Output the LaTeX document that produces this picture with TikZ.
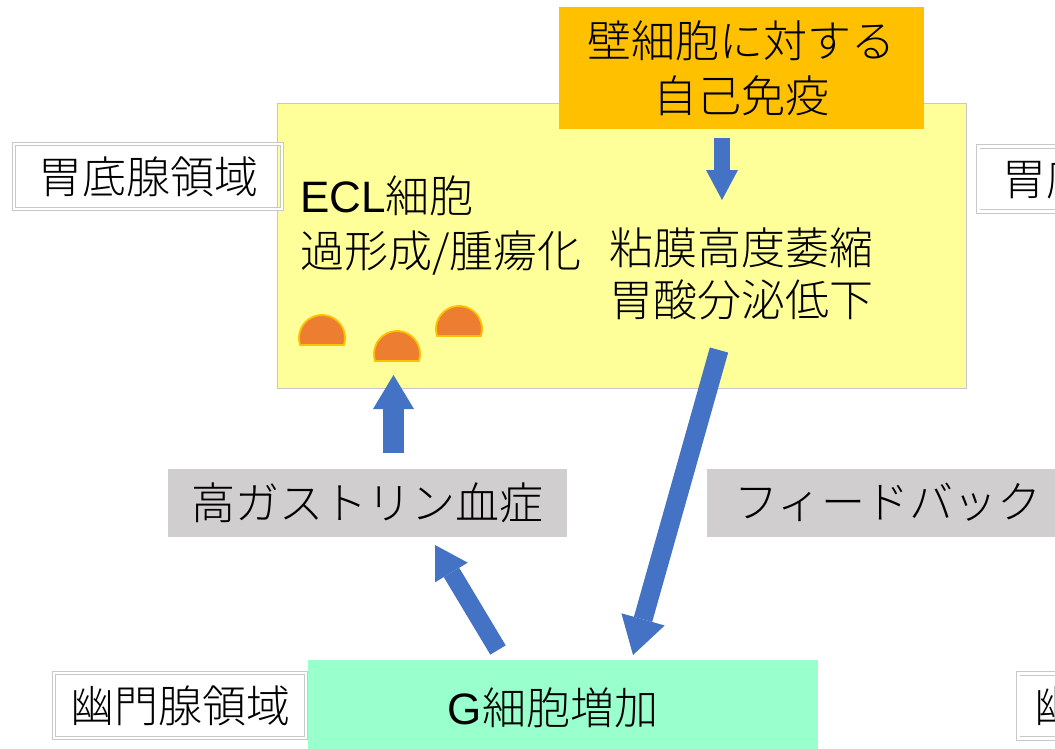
\documentclass[tikz,border=0pt]{standalone}
\usepackage{fontspec}
\setmainfont{Noto Sans CJK JP}[UprightFont=* Light]
\newfontfamily\latinfont{Liberation Sans}
\usepackage{xcolor}
\usetikzlibrary{positioning,arrows.meta}
\definecolor{paleyellow}{RGB}{255, 255, 153}
\definecolor{amber}{RGB}{255, 192, 0}
\definecolor{mint}{RGB}{153, 255, 204}
\definecolor{boxgray}{RGB}{208, 206, 206}
\definecolor{arrowblue}{RGB}{68, 114, 196}
\definecolor{cellorange}{RGB}{237, 125, 49}
\definecolor{edgegray}{RGB}{200, 200, 200}

\begin{document}
\begin{tikzpicture}[x=1pt,y=-1pt,
        every node/.style={font=\fontsize{44}{55}\selectfont, inner sep=0pt},
        regionbox/.style={draw=edgegray, double=white, double distance=2.5pt, line width=0.8pt, minimum height=65pt},
        graybox/.style={fill=boxgray, minimum height=68pt},
        cell/.style={fill=cellorange, draw=amber, line width=1.8pt},
        blockarrow/.style n args={3}{draw=arrowblue, line width=#1, -{Triangle[width=#2, length=#3, line width=0pt]}}]
        \useasboundingbox (0,0) rectangle (1055,748);

        % Fundic gland region
        \node[fill=paleyellow, draw=edgegray, line width=0.8pt, minimum width=689pt, minimum height=285pt] (fundus) at (621.5,245.5) {};
        \node[regionbox, minimum width=268pt] (fundlabel) at (148,176.5) {胃底腺領域};
        \node[regionbox, minimum width=268pt, anchor=west] (fundlabelR) at (978,179) {胃底腺領域};
        \node[fill=amber, minimum width=365pt, minimum height=122pt, align=center] (immune) at (741.5,68) {壁細胞に対する\\自己免疫};

        % Texts in the box
        \node[anchor=west, align=left] (ecl) at (300,225.5) {{\latinfont ECL}細胞\\過形成/腫瘍化};
        \node[align=center, font=\fontsize{44}{52}\selectfont] (atrophy) at (741,274) {粘膜高度萎縮\\胃酸分泌低下};

        % ECL cells
        \foreach \cx/\cy in {322/345, 397/361, 459/336}
            \draw[cell] (\cx+21.9,\cy) arc (17.7:-197.7:23) -- cycle;

        % Middle labels
        \node[graybox, minimum width=399pt] (hypergas) at (367.5,503) {高ガストリン血症};
        \node[graybox, minimum width=362pt, anchor=west] (feedback) at (707,502.5) {フィードバック};

        % Pyloric gland region
        \node[fill=mint, minimum width=510pt, minimum height=100pt] (gcell) at (563,710) {};
        \node (gtext) at (553,708) {{\latinfont G}細胞増加};
        \node[regionbox, minimum width=252pt] (pylabel) at (180,705.5) {幽門腺領域};
        \node[regionbox, minimum width=252pt, anchor=west] (pylabelR) at (1018,706) {幽門腺領域};

        % Arrows
        \coordinate (downtail) at (722,138);
        \coordinate (downtip) at (722,200);
        \coordinate (uptail) at (393.5,453);
        \coordinate (uptip) at (393.5,375);
        \coordinate (fbtail) at (719,350);
        \coordinate (fbtip) at (633,655);
        \coordinate (gtail) at (498,650);
        \coordinate (gtip) at (435,545);
        \draw[blockarrow={16pt}{32pt}{30pt}] (downtail) -- (downtip);
        \draw[blockarrow={21pt}{41pt}{34pt}] (uptail) -- (uptip);
        \draw[blockarrow={19pt}{45pt}{37pt}] (fbtail) -- (fbtip);
        \draw[blockarrow={18pt}{38pt}{32pt}] (gtail) -- (gtip);

    \end{tikzpicture}
\end{document}
